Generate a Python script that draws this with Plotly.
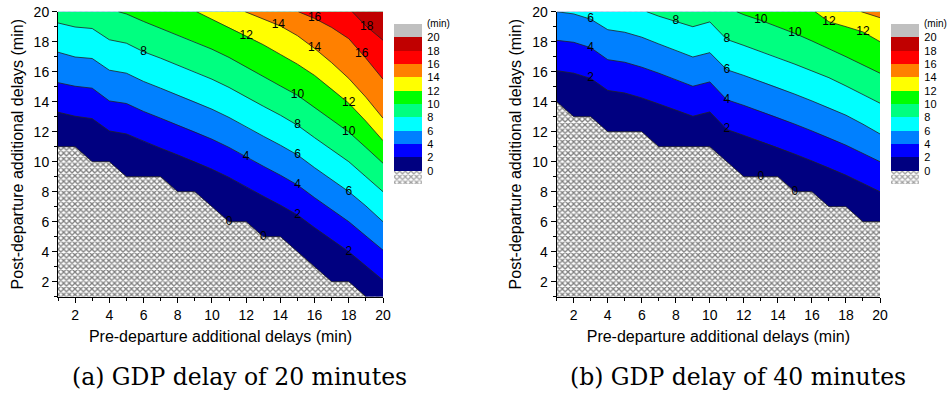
import numpy as np
import plotly.graph_objects as go

# ---------------- data ----------------
X_INT = list(range(1, 21))
LEVELS = [0, 2, 4, 6, 8, 10, 12, 14, 16, 18]
BAND_COLORS = ['#000080', '#0000ff', '#0080ff', '#00ffff', '#00ff80',
               '#00ff00', '#ffff00', '#ff8000', '#ff0000', '#c00000']
OVER_COLOR = '#c0c0c0'
LEGEND_LABELS = ['0', '2', '4', '6', '8', '10', '12', '14', '16', '18', '20']
TICKS_MAJOR = [2, 4, 6, 8, 10, 12, 14, 16, 18, 20]
TICKS_MINOR = [1, 3, 5, 7, 9, 11, 13, 15, 17, 19]
AXIS_MIN, AXIS_MAX = 1, 20

# Panel (a): GDP delay of 20 minutes -- isolines (x, y)
A_L0_X = list(range(1, 20))
A_L0_Y = [11, 11, 10, 10, 9, 9, 9, 8, 8, 7, 6, 6, 5, 5, 4, 3, 2, 2, 1]
A_L2_X = X_INT
A_L2_Y = [13.3, 13.03, 12.87, 12.05, 11.85, 11.35, 10.9, 10.45, 10.0, 9.5,
          8.95, 8.3, 7.7, 7.1, 6.45, 5.6, 4.8, 4.0, 3.05, 2.1]
A_L4_X = X_INT
A_L4_Y = [15.27, 15.03, 14.9, 14.05, 13.88, 13.35, 12.9, 12.45, 12.0, 11.5,
          10.95, 10.3, 9.7, 9.1, 8.45, 7.6, 6.8, 6.0, 5.05, 4.1]
A_L6_X = X_INT
A_L6_Y = [17.3, 16.98, 16.88, 16.1, 15.9, 15.35, 14.9, 14.45, 14.0, 13.5,
          12.95, 12.3, 11.7, 11.1, 10.45, 9.6, 8.8, 8.0, 7.05, 6.0]
A_L8_X = X_INT
A_L8_Y = [19.25, 18.98, 18.88, 18.13, 17.9, 17.33, 16.9, 16.45, 16.0, 15.5,
          14.95, 14.3, 13.7, 13.1, 12.43, 11.6, 10.8, 10.0, 9.0, 8.0]
A_L10_X = [4.53, 5, 6, 7, 8, 9, 10, 11, 12, 13, 14, 15, 16, 17, 18, 19, 20]
A_L10_Y = [20, 19.85, 19.35, 18.9, 18.45, 18.0, 17.5, 16.95, 16.3, 15.7,
           15.05, 14.43, 13.6, 12.8, 11.98, 10.95, 9.9]
A_L12_X = [9.1, 10, 11, 12, 13, 14, 15, 16, 17, 18, 19, 20]
A_L12_Y = [20, 19.5, 18.95, 18.4, 17.8, 17.15, 16.5, 15.75, 14.85, 13.9, 12.7, 11.4]
A_L14_X = [11.94, 13, 14, 15, 16, 17, 18, 19, 20]
A_L14_Y = [20, 19.5, 19.05, 18.4, 17.55, 16.6, 15.55, 14.3, 12.9]
A_L16_X = [15.05, 16, 17, 18, 19, 20]
A_L16_Y = [20, 19.55, 18.95, 18.2, 16.9, 15.5]
A_L18_X = [18.2, 19, 20]
A_L18_Y = [20, 19.05, 18.1]
A_LABEL_LEVELS = [0, 0, 2, 2, 4, 4, 6, 6, 8, 8, 10, 10, 12, 12, 14, 14, 16, 16, 18]
A_LABEL_XS = [11, 13, 15, 18, 12, 15, 15, 18, 6, 15, 15, 18, 12, 18, 13.88, 16, 16, 18.76, 19.05]

# Panel (b): GDP delay of 40 minutes -- isolines (x, y)
B_L0_X = X_INT
B_L0_Y = [14, 13, 13, 12, 12, 12, 11, 11, 11, 11, 10, 9, 9, 9, 8, 8, 7, 7, 6, 6]
B_L2_X = X_INT
B_L2_Y = [16.07, 15.9, 15.55, 14.75, 14.58, 14.25, 13.85, 13.45, 13.03, 13.32,
          12.15, 11.75, 11.35, 10.95, 10.5, 10.05, 9.6, 9.1, 8.55, 8.0]
B_L4_X = X_INT
B_L4_Y = [18.09, 17.96, 17.6, 16.8, 16.63, 16.3, 15.9, 15.45, 15.03, 15.32,
          14.13, 13.75, 13.35, 12.95, 12.5, 12.05, 11.6, 11.1, 10.55, 10.0]
B_L6_X = X_INT
B_L6_Y = [20.0, 19.85, 19.5, 18.8, 18.63, 18.3, 17.85, 17.4, 16.98, 17.27,
          16.13, 15.75, 15.35, 14.95, 14.5, 14.05, 13.6, 13.1, 12.5, 11.85]
B_L8_X = [6.29, 7, 8, 9, 10, 11, 12, 13, 14, 15, 16, 17, 18, 19, 20]
B_L8_Y = [20, 19.7, 19.35, 19.0, 19.32, 18.15, 17.75, 17.35, 16.95, 16.5,
          16.05, 15.6, 15.05, 14.5, 13.9]
B_L10_X = [11.58, 12, 13, 14, 15, 16, 17, 18, 19, 20]
B_L10_Y = [20, 19.8, 19.42, 19.0, 18.55, 18.05, 17.55, 17.0, 16.45, 15.9]
B_L12_X = [16.18, 17, 18, 19, 20]
B_L12_Y = [20, 19.33, 19.0, 18.65, 18.0]
B_L14_X = [18.9, 19, 20]
B_L14_Y = [20, 19.96, 19.6]
B_LABEL_LEVELS = [0, 0, 2, 2, 4, 4, 6, 6, 8, 8, 10, 10, 12, 12]
B_LABEL_XS = [13, 15, 3, 11, 3, 11, 3, 11, 8, 11, 13, 15, 17, 19]

CAPTIONS = ['(a) GDP delay of 20 minutes', '(b) GDP delay of 40 minutes']
X_TITLE = 'Pre-departure additional delays (min)'
Y_TITLE = 'Post-departure additional delays (min)'

A_LINES = [(A_L0_X, A_L0_Y), (A_L2_X, A_L2_Y), (A_L4_X, A_L4_Y), (A_L6_X, A_L6_Y),
           (A_L8_X, A_L8_Y), (A_L10_X, A_L10_Y), (A_L12_X, A_L12_Y),
           (A_L14_X, A_L14_Y), (A_L16_X, A_L16_Y), (A_L18_X, A_L18_Y)]
B_LINES = [(B_L0_X, B_L0_Y), (B_L2_X, B_L2_Y), (B_L4_X, B_L4_Y), (B_L6_X, B_L6_Y),
           (B_L8_X, B_L8_Y), (B_L10_X, B_L10_Y), (B_L12_X, B_L12_Y),
           (B_L14_X, B_L14_Y)]

# ---------------- styling ----------------
SANS = 'Liberation Sans, Arial, sans-serif'
SERIF = 'DejaVu Serif, Liberation Serif, serif'
LINE_COLOR = '#222222'
HATCH = dict(shape='x', fgcolor='black', bgcolor='white', size=4, solidity=0.55)

fig = go.Figure()


def add_panel(lines, lab_levels, lab_xs, xa, ya):
    # hatched base (value 0 region)
    fig.add_trace(go.Scatter(
        x=[AXIS_MIN, AXIS_MAX, AXIS_MAX, AXIS_MIN, AXIS_MIN],
        y=[AXIS_MIN, AXIS_MIN, AXIS_MAX, AXIS_MAX, AXIS_MIN],
        mode='none', fill='toself', fillcolor='white', fillpattern=HATCH,
        xaxis=xa, yaxis=ya, hoverinfo='skip', showlegend=False))
    # stacked "above isoline" regions
    for (lx, ly), color in zip(lines, BAND_COLORS):
        px = list(lx)
        py = list(ly)
        if py[-1] <= AXIS_MIN and px[-1] < AXIS_MAX:
            px.append(AXIS_MAX)
            py.append(AXIS_MIN)
        px.append(AXIS_MAX)
        py.append(AXIS_MAX)
        if px[0] <= AXIS_MIN:
            px.append(AXIS_MIN)
            py.append(AXIS_MAX)
        fig.add_trace(go.Scatter(
            x=px, y=py, mode='none', fill='toself', fillcolor=color,
            xaxis=xa, yaxis=ya, hoverinfo='skip', showlegend=False))
    # isolines
    for lx, ly in lines:
        fig.add_trace(go.Scatter(
            x=lx, y=ly, mode='lines', line=dict(color=LINE_COLOR, width=0.8),
            xaxis=xa, yaxis=ya, hoverinfo='skip', showlegend=False))
    # labels on isolines
    tx, ty, tt = [], [], []
    for lev, xv in zip(lab_levels, lab_xs):
        lx, ly = lines[LEVELS.index(lev)]
        tx.append(xv)
        ty.append(float(np.interp(xv, lx, ly)))
        tt.append(str(lev))
    fig.add_trace(go.Scatter(
        x=tx, y=ty, text=tt, mode='text',
        textfont=dict(family=SANS, size=12, color='black'),
        xaxis=xa, yaxis=ya, hoverinfo='skip', showlegend=False))


def add_legend(xa, ya):
    colors = ['white'] + BAND_COLORS + [OVER_COLOR]
    shapes = ['x'] + [''] * (len(colors) - 1)
    fig.add_trace(go.Bar(
        x=[0] * len(colors), y=[1] * len(colors), base=list(range(len(colors))),
        width=1,
        marker=dict(color=colors, line=dict(width=0),
                    pattern=dict(shape=shapes, fgcolor='black', size=4, solidity=0.55)),
        xaxis=xa, yaxis=ya, hoverinfo='skip', showlegend=False))


add_panel(A_LINES, A_LABEL_LEVELS, A_LABEL_XS, 'x', 'y')
add_panel(B_LINES, B_LABEL_LEVELS, B_LABEL_XS, 'x2', 'y2')
add_legend('x3', 'y3')
add_legend('x4', 'y4')

W, H = 947, 395
PLOT_TOP = 1 - 11.7 / H
PLOT_BOT = 1 - 296.7 / H
A_DOM = [58 / W, 383 / W]
B_DOM = [556.7 / W, 880 / W]
LEG_A = [394 / W, 422.3 / W]
LEG_B = [891 / W, 919.3 / W]
LEG_Y = [1 - 184 / H, 1 - 24 / H]


def main_x(dom, anchor):
    return dict(domain=dom, anchor=anchor, range=[AXIS_MIN, AXIS_MAX],
                tickvals=TICKS_MAJOR, ticks='outside', ticklen=5, tickwidth=1,
                tickcolor='black', showline=True, linecolor='black', linewidth=1,
                showgrid=False, zeroline=False, automargin=False,
                minor=dict(tickvals=TICKS_MINOR, ticks='outside', ticklen=3,
                           tickcolor='black', showgrid=False),
                tickfont=dict(family=SANS, size=14, color='black'),
                title=dict(text=X_TITLE, standoff=9,
                           font=dict(family=SANS, size=16, color='black')))


def main_y(anchor):
    return dict(domain=[PLOT_BOT, PLOT_TOP], anchor=anchor, range=[AXIS_MIN, AXIS_MAX],
                tickvals=TICKS_MAJOR, ticks='outside', ticklen=5, tickwidth=1,
                tickcolor='black', showline=True, linecolor='black', linewidth=1,
                showgrid=False, zeroline=False, automargin=False,
                minor=dict(tickvals=TICKS_MINOR, ticks='outside', ticklen=3,
                           tickcolor='black', showgrid=False),
                tickfont=dict(family=SANS, size=14, color='black'),
                title=dict(text=Y_TITLE, standoff=6,
                           font=dict(family=SANS, size=16, color='black')))


def leg_x(dom, anchor):
    return dict(domain=dom, anchor=anchor, range=[-0.5, 0.5], visible=False)


def leg_y(anchor):
    return dict(domain=LEG_Y, anchor=anchor, range=[0, 12], side='right',
                tickvals=list(range(1, 12)), ticktext=LEGEND_LABELS, ticks='',
                showline=False, showgrid=False, zeroline=False, automargin=False,
                ticklabelstandoff=4,
                tickfont=dict(family=SANS, size=11, color='black'))


fig.update_layout(
    width=W, height=H, autosize=False,
    margin=dict(l=0, r=0, t=0, b=0, pad=0, autoexpand=False),
    paper_bgcolor='white', plot_bgcolor='white',
    showlegend=False, bargap=0,
    xaxis=main_x(A_DOM, 'y'), yaxis=main_y('x'),
    xaxis2=main_x(B_DOM, 'y2'), yaxis2=main_y('x2'),
    xaxis3=leg_x(LEG_A, 'y3'), yaxis3=leg_y('x3'),
    xaxis4=leg_x(LEG_B, 'y4'), yaxis4=leg_y('x4'),
)

for xa, ya in (('x3', 'y3'), ('x4', 'y4')):
    fig.add_annotation(text='(min)', x=1, xref=xa + ' domain', y=12, yref=ya,
                       xanchor='left', yanchor='middle', xshift=3, showarrow=False,
                       font=dict(family=SANS, size=10, color='black'))

for cap, cx in zip(CAPTIONS, [240 / W, 737.5 / W]):
    fig.add_annotation(text=cap, x=cx, xref='paper', y=1 - 376.7 / H, yref='paper',
                       xanchor='center', yanchor='middle', showarrow=False,
                       font=dict(family=SERIF, size=23.5, color='black'))

fig.write_html('out.html', config={'displayModeBar': False},
               post_script="document.body.style.margin='0px';")
